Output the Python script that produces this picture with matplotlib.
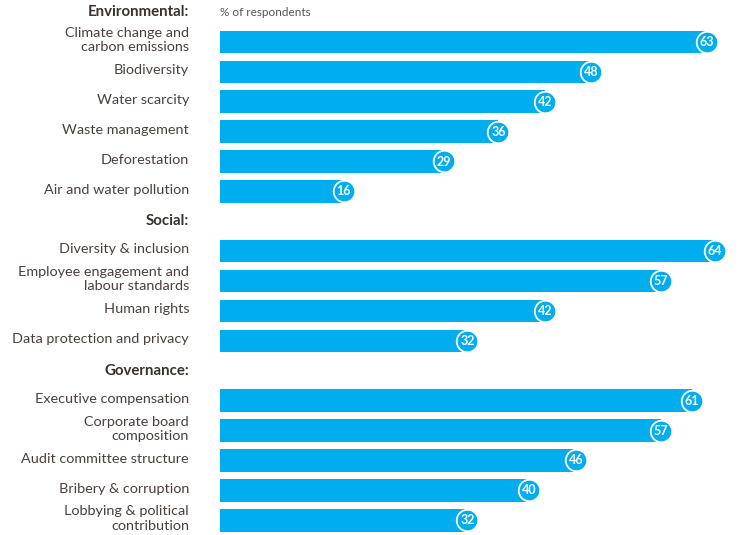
import numpy as np
import matplotlib.pyplot as plt

plt.rcParams['font.family'] = ['Lato', 'DejaVu Sans']

# survey groups, in top-to-bottom order
env_labels = ['Climate change and\ncarbon emissions', 'Biodiversity', 'Water scarcity',
              'Waste management', 'Deforestation', 'Air and water pollution']
env_values = [63, 48, 42, 36, 29, 16]

soc_labels = ['Diversity & inclusion', 'Employee engagement and\nlabour standards',
              'Human rights', 'Data protection and privacy']
soc_values = [64, 57, 42, 32]

gov_labels = ['Executive compensation', 'Corporate board\ncomposition',
              'Audit committee structure', 'Bribery & corruption',
              'Lobbying & political\ncontribution']
gov_values = [61, 57, 46, 40, 32]

groups = [('Environmental:', env_labels, env_values),
          ('Social:', soc_labels, soc_values),
          ('Governance:', gov_labels, gov_values)]

BLUE = '#00aeef'
TEXT = '#4b3f3c'

fig = plt.figure(figsize=(7.4, 5.35), dpi=100)
ax = fig.add_axes([220 / 740, 0, 520 / 740, 1])

label_x = -31 / 520
row = 0
for header, labels, values in groups:
    ax.text(label_x, row, header, transform=ax.get_yaxis_transform(),
            ha='right', va='center', fontsize=10.8, fontweight='bold', color='#3a302e')
    row += 1
    for lab, v in zip(labels, values):
        ax.barh(row, v, height=0.75, color=BLUE, linewidth=0)
        ax.text(label_x, row - 0.06, lab, transform=ax.get_yaxis_transform(),
                ha='right', va='center', fontsize=10.4, color=TEXT, linespacing=1.22)
        # value bubble sitting on the bar end
        ax.scatter([v], [row], s=240, color=BLUE, edgecolors='white',
                   linewidths=1.3, zorder=3)
        ax.text(v, row, str(v), ha='center', va='center', fontsize=9,
                fontweight='bold', color='white', zorder=4)
        row += 1

ax.text(0, 0, '% of respondents', ha='left', va='center', fontsize=8.5, color='#555555')

ax.set_xlim(0, 520 / 7.734)
ax.set_ylim((535 - 12) / 29.9, -12 / 29.9)
ax.axis('off')

fig.savefig('out.png', dpi=100)
